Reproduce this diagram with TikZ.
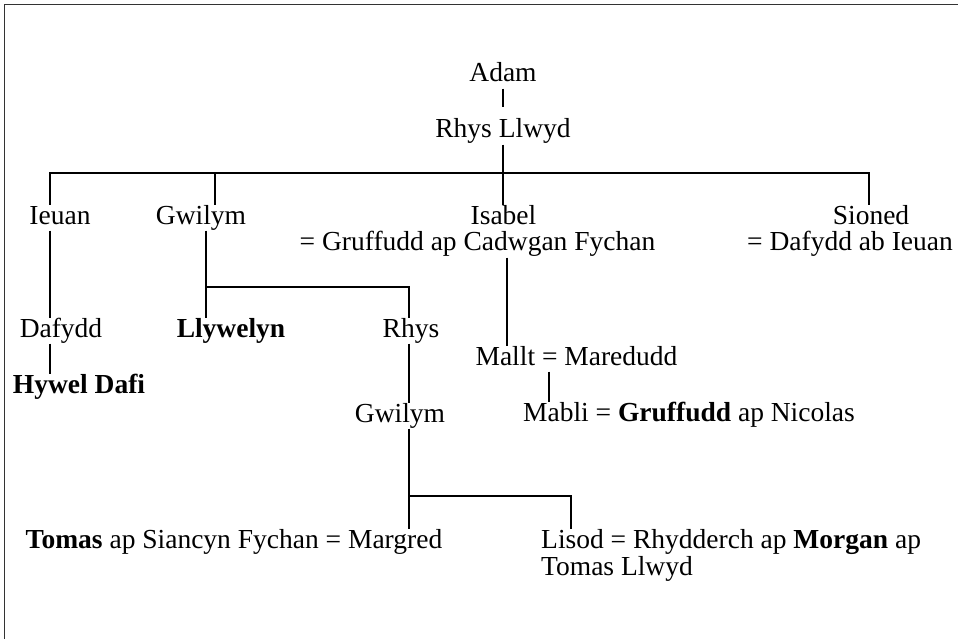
\documentclass[tikz,border=0pt]{standalone}
\usepackage{fontspec}
\setmainfont{Liberation Serif}

\begin{document}
\begin{tikzpicture}[x=1pt,y=-1pt,
	person/.style={anchor=base,inner sep=0pt,text height=19pt,text depth=6.5pt,
		font=\fontsize{27.5}{27}\selectfont},
	link/.style={line width=2.3pt},
	frame/.style={line width=1.4pt,black!80}]
	\useasboundingbox (0,0) rectangle (958,639);
	\draw[frame] (4.5,639) -- (4.5,4.5) -- (958,4.5);

	\node[person] (adam) at (503,82) {Adam};
	\node[person] (rhysll) at (503,138) {Rhys Llwyd};

	\node[person] (ieuan) at (60,224) {Ieuan};
	\node[person] (gwilym) at (201,224) {Gwilym};
	\node[person] (isabel) at (503.5,224) {Isabel};
	\node[person] (isabelsp) at (477.5,251) {= Gruffudd ap Cadwgan Fychan};
	\node[person] (sioned) at (871,224) {Sioned};
	\node[person] (sionedsp) at (850,251) {= Dafydd ab Ieuan};

	\node[person] (dafydd) at (61,337) {Dafydd};
	\node[person] (llywelyn) at (231,337) {\textbf{Llywelyn}};
	\node[person] (rhys) at (411,337) {Rhys};
	\node[person] (hywel) at (79,393) {\textbf{Hywel Dafi}};
	\node[person] (mallt) at (576.5,365) {Mallt = Maredudd};
	\node[person] (mabli) at (689,421) {Mabli = \textbf{Gruffudd} ap Nicolas};
	\node[person] (gwilymb) at (400,422) {Gwilym};

	\node[person] (tomas) at (234,548) {\textbf{Tomas} ap Siancyn Fychan = Margred};
	\node[person,anchor=base west] (lisod) at (541,548)
		{\begin{tabular}[t]{@{}l@{}}Lisod = Rhydderch ap \textbf{Morgan} ap\\Tomas Llwyd\end{tabular}};

	% branch points
	\coordinate (k1) at (50,173);
	\coordinate (k2) at (215,173);
	\coordinate (k3) at (503,173);
	\coordinate (k4) at (869,173);
	\coordinate (gw) at (206,287);
	\coordinate (rh) at (409,287);
	\coordinate (gb) at (409,496);
	\coordinate (li) at (571,496);
	\coordinate (isl) at (507,300);
	\coordinate (ma) at (549,390);

	\draw[link,shorten >=12pt] (adam.south) -- (rhysll.north);
	\draw[link] (rhysll.south) -- (k3);
	\draw[link] (k1 |- ieuan.north) -- (k1) -- (k4) -- (k4 |- sioned.north);
	\draw[link] (k2) -- (k2 |- gwilym.north);
	\draw[link] (k3) -- (k3 |- isabel.north);

	\draw[link] (ieuan.south -| k1) -- (dafydd.north -| k1);
	\draw[link] (dafydd.south -| k1) -- (hywel.north -| k1);

	\draw[link] (gwilym.south -| gw) -- (llywelyn.north -| gw);
	\draw[link] (gw) -- (rh) -- (rhys.north -| rh);
	\draw[link] (rhys.south -| rh) -- (gwilymb.north -| rh);

	\draw[link] (gwilymb.south -| gb) -- (tomas.north -| gb);
	\draw[link] (gb) -- (li) -- (lisod.north -| li);

	\draw[link] (isabelsp.south -| isl) -- (mallt.north -| isl);
	\draw[link] (mallt.south -| ma) -- (mabli.north -| ma);
\end{tikzpicture}
\end{document}
